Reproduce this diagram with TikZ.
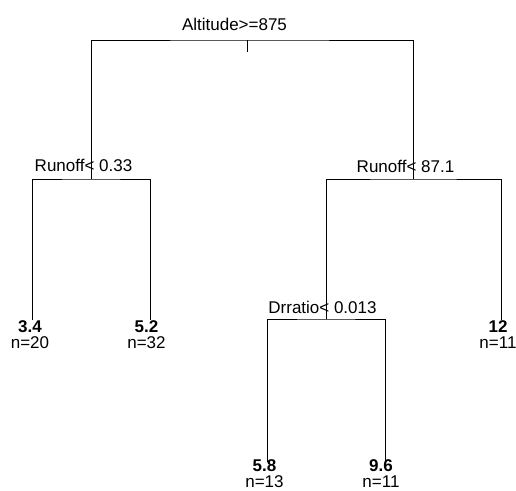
\documentclass[tikz,border=0pt]{standalone}
\usepackage{fontspec}
\setmainfont{Liberation Sans}
\begin{document}
\begin{tikzpicture}[x=1pt,y=-1pt,line width=0.9pt,
  every node/.style={font=\fontsize{17}{20}\selectfont,inner sep=0pt},
  split/.style={anchor=base},
  leafval/.style={anchor=base,font=\fontsize{17}{20}\selectfont\bfseries}]
\useasboundingbox (0,0) rectangle (516,490);

% split points
\coordinate (root) at (247,40);
\coordinate (root-tick) at (247,52);
\coordinate (runoffL) at (91,179);
\coordinate (runoffR) at (413,179);
\coordinate (drratio) at (326,319);

% tops of the leaves
\foreach \n/\x/\y in {l1/32/320, l2/150/320, l3/267/462, l4/385/462, l5/501/320}
  \coordinate (\n) at (\x,\y);

% branches
\draw (runoffL) |- (root) -| (runoffR);
\draw (root) -- (root-tick);
\draw (l1) |- (runoffL) -| (l2);
\draw (drratio) |- (runoffR) -| (l5);
\draw (l3) |- (drratio) -| (l4);

% split labels
\node [split] (lab-root) at (234.5,30) {Altitude>=875};
\node [split] (lab-runoffL) at (83.5,171) {Runoff< 0.33};
\node [split] (lab-runoffR) at (405.5,172) {Runoff< 87.1};
\node [split] (lab-drratio) at (322.5,313) {Drratio< 0.013};

% leaf labels
\foreach \n/\x/\y/\v/\c in {l1/30/332/3.4/20, l2/146.5/332/5.2/32,
    l3/264.5/471/5.8/13, l4/381/471/9.6/11, l5/498/332/12/11}
{
  \node [leafval] (\n-val) at (\x,\y) {\v};
  \node [split] (\n-n) at (\x,\y+16) {n=\c};
}

\end{tikzpicture}
\end{document}
